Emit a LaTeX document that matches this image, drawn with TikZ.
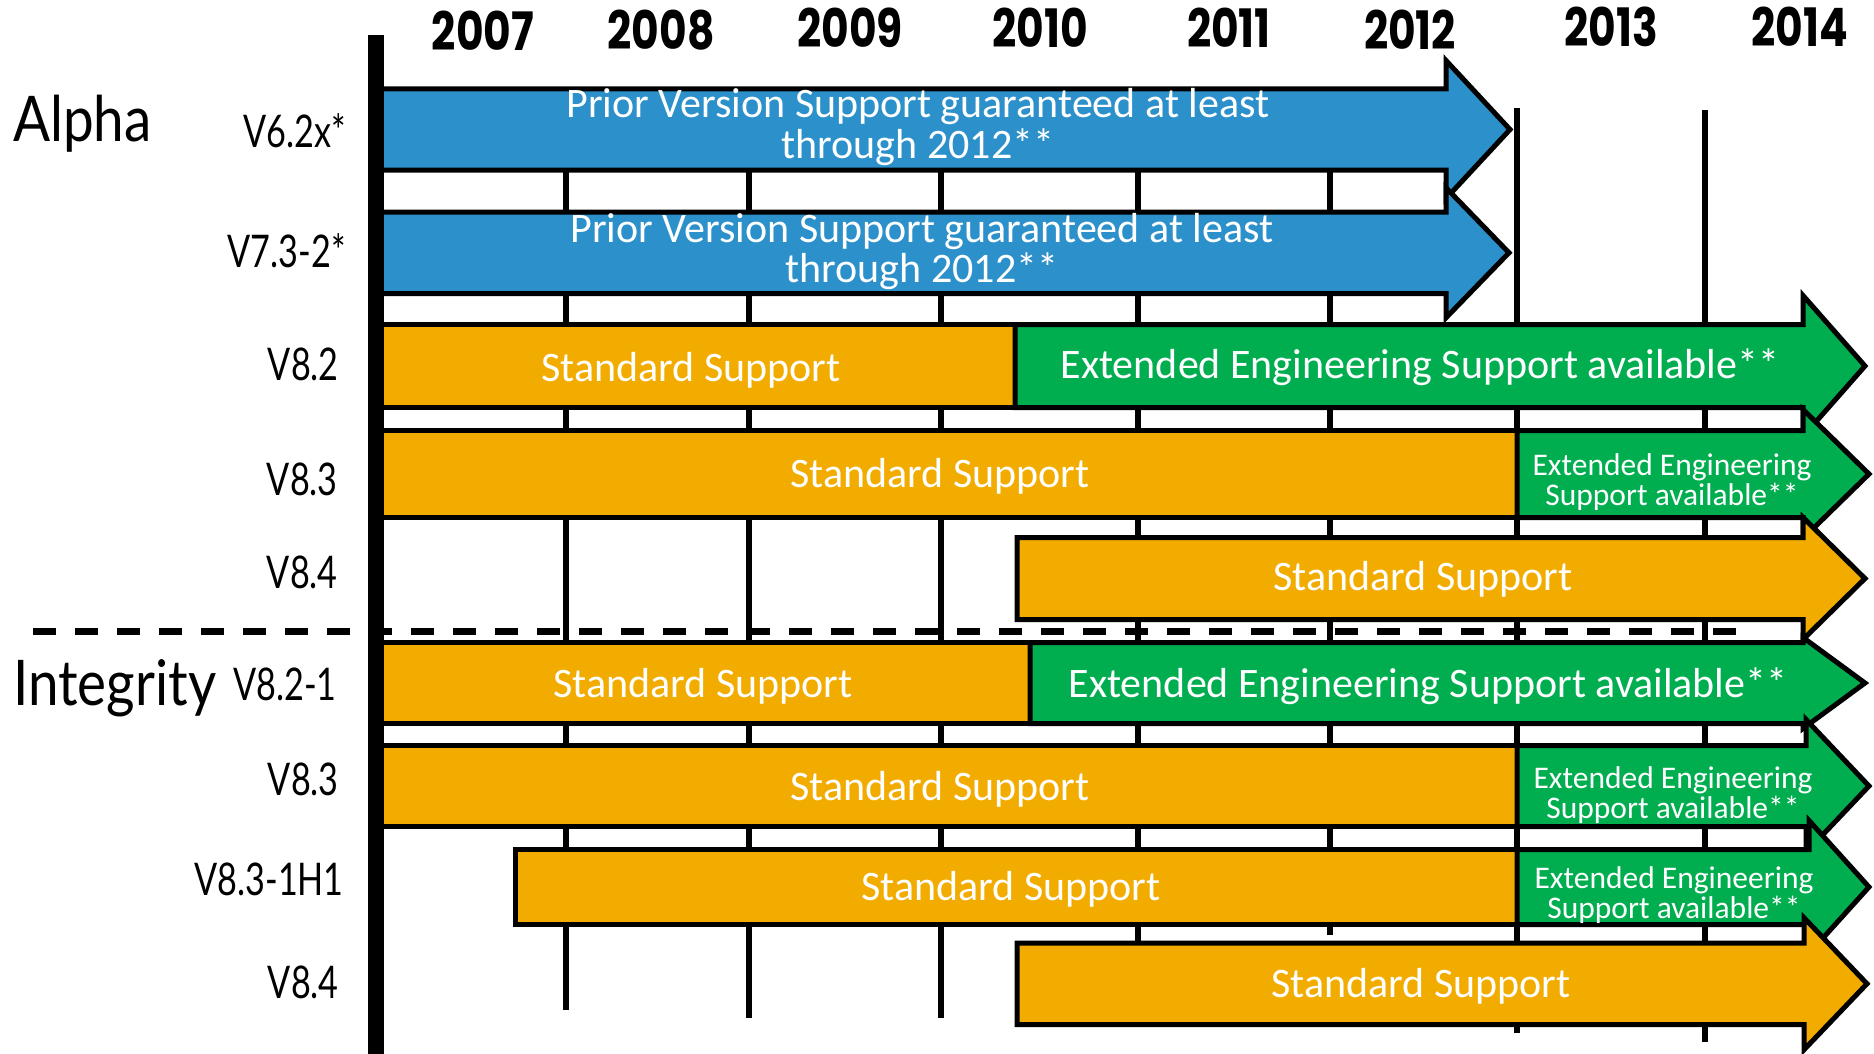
\documentclass[tikz,border=0pt]{standalone}
\usepackage{fontspec}
\newfontfamily\barfont{Carlito}
\newfontfamily\yearfont[FakeStretch=0.8]{Poppins}
\newfontfamily\labfont[FakeStretch=0.76]{Lato}
\newfontfamily\grpfont[FakeStretch=0.87]{Lato}
\definecolor{bblue}{RGB}{44,144,203}
\definecolor{borange}{RGB}{242,172,0}
\definecolor{bgreen}{RGB}{0,174,80}
\newcommand\twoline[3]{\vtop{\baselineskip=#1\lineskiplimit=-100pt\lineskip=0pt\halign{\hfil##\hfil\cr#2\cr#3\cr}}}
% #1 colour, #2 x start, #3 body top, #4 body bottom, #5 head back x, #6 head half height, #7 tip x
\newcommand\arrowbar[7]{\path[barbox,fill=#1] (#2,#3) -- (#5,#3) -- (#5,{(#3+#4)/2-#6}) -- (#7,{(#3+#4)/2}) -- (#5,{(#3+#4)/2+#6}) -- (#5,#4) -- (#2,#4) -- cycle;}
\tikzset{
  yr/.style={font={\yearfont\bfseries\fontsize{53}{53}\selectfont}, anchor=base, inner sep=0pt},
  lab/.style={font={\labfont\fontsize{45}{45}\selectfont}, anchor=base east, inner sep=0pt},
  grp/.style={font={\grpfont\fontsize{63}{63}\selectfont}, anchor=base west, inner sep=0pt},
  bt/.style={font={\barfont\fontsize{42}{40}\selectfont}, text=white, anchor=base, inner sep=0pt},
  st/.style={font={\barfont\fontsize{31.5}{30}\selectfont}, text=white, anchor=base, inner sep=0pt},
  gridline/.style={line width=5.5pt},
  barbox/.style={draw=black, line width=5pt, line join=miter},
}
\begin{document}
\begin{tikzpicture}[x=1pt, y=-1pt]
\useasboundingbox[fill=white] (0,0) rectangle (1874,1054);
% year grid lines
\foreach \x/\a/\b in {566/100/1010, 749/100/1018, 941/100/1018, 1138/100/990, 1330/100/935, 1517/108/1033, 1705/110/1042}
  \draw[gridline] (\x,\a) -- (\x,\b);
% separator
\draw[line width=7pt, dash pattern=on 22.5pt off 19.5pt] (33,631) -- (1738,631);
% Alpha rows
\arrowbar{bblue}{376}{89}{170}{1446}{69}{1510}
\arrowbar{bblue}{376}{212}{293.5}{1446}{65}{1509}
\path[barbox,fill=borange] (376,324.5) rectangle (1015,407.5);
\arrowbar{bgreen}{1015}{324.5}{407.5}{1803}{70.5}{1865}
\path[barbox,fill=borange] (376,430.5) rectangle (1517,517.5);
\arrowbar{bgreen}{1517}{430.5}{517.5}{1803}{64.5}{1869}
\arrowbar{borange}{1017}{537.5}{619.5}{1803}{61}{1865}
% Integrity rows
\path[barbox,fill=borange] (376,642.5) rectangle (1030,723.5);
\arrowbar{bgreen}{1030}{642.5}{723.5}{1803}{45.5}{1865}
\path[barbox,fill=borange] (376,745.5) rectangle (1517,826.5);
\arrowbar{bgreen}{1517}{745.5}{826.5}{1806}{66.5}{1869}
\path[barbox,fill=borange] (515,849.5) rectangle (1517,924.5);
\arrowbar{bgreen}{1517}{849.5}{924.5}{1809}{66.5}{1869}
\arrowbar{borange}{1017}{943}{1024.5}{1804}{66}{1867}
% axis
\draw[line width=16pt] (376,35) -- (376,1054);
% years
\node[yr] (y2007) at (483,51) {2007};
\node[yr] (y2008) at (661,50) {2008};
\node[yr] (y2009) at (850,48) {2009};
\node[yr] (y2010) at (1040,48) {2010};
\node[yr] (y2011) at (1229,48) {2011};
\node[yr] (y2012) at (1410,50) {2012};
\node[yr] (y2013) at (1611,47) {2013};
\node[yr] (y2014) at (1800,47) {2014};
% group and version labels
\node[grp] (alpha) at (13,142) {Alpha};
\node[grp] (integrity) at (13,705) {Integrity};
\node[lab] (v62) at (346,147) {V6.2x*};
\node[lab] (v73) at (346,267) {V7.3-2*};
\node[lab] (a82) at (339,380) {V8.2};
\node[lab] (a83) at (338,495) {V8.3};
\node[lab] (a84) at (338,588) {V8.4};
\node[lab] (i821) at (337,700) {V8.2-1};
\node[lab] (i83) at (339,795) {V8.3};
\node[lab] (i831) at (344,895) {V8.3-1H1};
\node[lab] (i84) at (339,998) {V8.4};
% bar texts
\node[bt] (t1) at (918,118) {\twoline{40pt}{Prior Version Support guaranteed at least}{through 2012**}};
\node[bt] (t2) at (922,242) {\twoline{40pt}{Prior Version Support guaranteed at least}{through 2012**}};
\node[bt] (t3) at (691,381) {Standard Support};
\node[bt] (t4) at (1420,378) {Extended Engineering Support available**};
\node[bt] (t5) at (940,487) {Standard Support};
\node[st] (t6) at (1672,475) {\twoline{30pt}{Extended Engineering}{Support available**}};
\node[bt] (t7) at (1423,590) {Standard Support};
\node[bt] (t8) at (703,697) {Standard Support};
\node[bt] (t9) at (1428,697) {Extended Engineering Support available**};
\node[bt] (t10) at (940,800) {Standard Support};
\node[st] (t11) at (1673,788) {\twoline{30pt}{Extended Engineering}{Support available**}};
\node[bt] (t12) at (1011,900) {Standard Support};
\node[st] (t13) at (1674,888) {\twoline{30pt}{Extended Engineering}{Support available**}};
\node[bt] (t14) at (1421,997) {Standard Support};
\end{tikzpicture}
\end{document}
